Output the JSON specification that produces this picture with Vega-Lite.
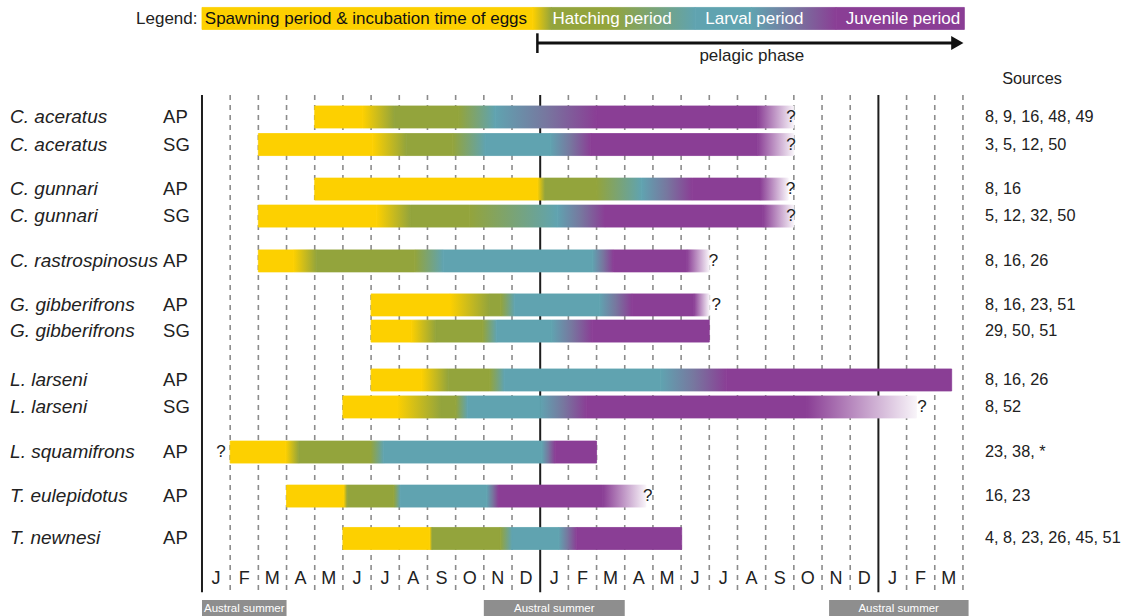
{
  "$schema": "https://vega.github.io/schema/vega-lite/v6.json",
  "width": 1125,
  "height": 616,
  "autosize": {"type": "none"},
  "padding": 0,
  "background": "white",
  "config": {"view": {"stroke": null}, "font": "Liberation Sans", "scale": {"continuousPadding": 0}},
  "datasets": {
    "grid": [
      {"m": 0, "kind": "year"}, {"m": 1, "kind": "month"}, {"m": 2, "kind": "month"}, {"m": 3, "kind": "month"},
      {"m": 4, "kind": "month"}, {"m": 5, "kind": "month"}, {"m": 6, "kind": "month"}, {"m": 7, "kind": "month"},
      {"m": 8, "kind": "month"}, {"m": 9, "kind": "month"}, {"m": 10, "kind": "month"}, {"m": 11, "kind": "month"},
      {"m": 12, "kind": "year"}, {"m": 13, "kind": "month"}, {"m": 14, "kind": "month"}, {"m": 15, "kind": "month"},
      {"m": 16, "kind": "month"}, {"m": 17, "kind": "month"}, {"m": 18, "kind": "month"}, {"m": 19, "kind": "month"},
      {"m": 20, "kind": "month"}, {"m": 21, "kind": "month"}, {"m": 22, "kind": "month"}, {"m": 23, "kind": "month"},
      {"m": 24, "kind": "year"}, {"m": 25, "kind": "month"}, {"m": 26, "kind": "month"}, {"m": 27, "kind": "month"}
    ],
    "months": [
      {"i": 0, "l": "J"}, {"i": 1, "l": "F"}, {"i": 2, "l": "M"}, {"i": 3, "l": "A"}, {"i": 4, "l": "M"}, {"i": 5, "l": "J"},
      {"i": 6, "l": "J"}, {"i": 7, "l": "A"}, {"i": 8, "l": "S"}, {"i": 9, "l": "O"}, {"i": 10, "l": "N"}, {"i": 11, "l": "D"},
      {"i": 12, "l": "J"}, {"i": 13, "l": "F"}, {"i": 14, "l": "M"}, {"i": 15, "l": "A"}, {"i": 16, "l": "M"}, {"i": 17, "l": "J"},
      {"i": 18, "l": "J"}, {"i": 19, "l": "A"}, {"i": 20, "l": "S"}, {"i": 21, "l": "O"}, {"i": 22, "l": "N"}, {"i": 23, "l": "D"},
      {"i": 24, "l": "J"}, {"i": 25, "l": "F"}, {"i": 26, "l": "M"}
    ],
    "seg": [
      {"row": -2.65, "a": 0, "b": 11.74, "s": "YY"}, {"row": -2.65, "a": 11.74, "b": 12.4, "s": "YG"}, {"row": -2.65, "a": 12.4, "b": 14.5, "s": "GG"},
      {"row": -2.65, "a": 14.5, "b": 17.5, "s": "GT"}, {"row": -2.65, "a": 17.5, "b": 19.5, "s": "TT"}, {"row": -2.65, "a": 19.5, "b": 22.5, "s": "TP"},
      {"row": -2.65, "a": 22.5, "b": 27.05, "s": "PP"},

      {"row": 1, "a": 4, "b": 5.7, "s": "YY"}, {"row": 1, "a": 5.7, "b": 6.83, "s": "YG"}, {"row": 1, "a": 6.83, "b": 9.1, "s": "GG"},
      {"row": 1, "a": 9.1, "b": 10.4, "s": "GT"}, {"row": 1, "a": 10.4, "b": 14.0, "s": "TP"}, {"row": 1, "a": 14.0, "b": 19.7, "s": "PP"},
      {"row": 1, "a": 19.7, "b": 21.0, "s": "PW"},

      {"row": 2.02, "a": 2, "b": 6.06, "s": "YY"}, {"row": 2.02, "a": 6.06, "b": 7.25, "s": "YG"}, {"row": 2.02, "a": 7.25, "b": 8.9, "s": "GG"},
      {"row": 2.02, "a": 8.9, "b": 10.06, "s": "GT"}, {"row": 2.02, "a": 10.06, "b": 12.35, "s": "TT"}, {"row": 2.02, "a": 12.35, "b": 13.8, "s": "TP"},
      {"row": 2.02, "a": 13.8, "b": 19.7, "s": "PP"}, {"row": 2.02, "a": 19.7, "b": 21.0, "s": "PW"},

      {"row": 3.67, "a": 4, "b": 11.9, "s": "YY"}, {"row": 3.67, "a": 11.9, "b": 12.17, "s": "YG"}, {"row": 3.67, "a": 12.17, "b": 14.0, "s": "GG"},
      {"row": 3.67, "a": 14.0, "b": 15.6, "s": "GT"}, {"row": 3.67, "a": 15.6, "b": 17.4, "s": "TP"}, {"row": 3.67, "a": 17.4, "b": 19.8, "s": "PP"},
      {"row": 3.67, "a": 19.8, "b": 20.8, "s": "PW"},

      {"row": 4.67, "a": 2, "b": 6.2, "s": "YY"}, {"row": 4.67, "a": 6.2, "b": 7.4, "s": "YG"}, {"row": 4.67, "a": 7.4, "b": 9.5, "s": "GG"},
      {"row": 4.67, "a": 9.5, "b": 12.6, "s": "GT"}, {"row": 4.67, "a": 12.6, "b": 14.3, "s": "TP"}, {"row": 4.67, "a": 14.3, "b": 19.9, "s": "PP"},
      {"row": 4.67, "a": 19.9, "b": 21.0, "s": "PW"},

      {"row": 6.33, "a": 2, "b": 3.25, "s": "YY"}, {"row": 6.33, "a": 3.25, "b": 4.07, "s": "YG"}, {"row": 6.33, "a": 4.07, "b": 7.55, "s": "GG"},
      {"row": 6.33, "a": 7.55, "b": 8.56, "s": "GT"}, {"row": 6.33, "a": 8.56, "b": 13.85, "s": "TT"}, {"row": 6.33, "a": 13.85, "b": 14.6, "s": "TP"},
      {"row": 6.33, "a": 14.6, "b": 17.2, "s": "PP"}, {"row": 6.33, "a": 17.2, "b": 18.0, "s": "PW"},

      {"row": 7.96, "a": 6, "b": 8.8, "s": "YY"}, {"row": 7.96, "a": 8.8, "b": 10.2, "s": "YG"}, {"row": 7.96, "a": 10.2, "b": 10.6, "s": "GG"},
      {"row": 7.96, "a": 10.6, "b": 11.1, "s": "GT"}, {"row": 7.96, "a": 11.1, "b": 14.1, "s": "TT"}, {"row": 7.96, "a": 14.1, "b": 15.26, "s": "TP"},
      {"row": 7.96, "a": 15.26, "b": 17.45, "s": "PP"}, {"row": 7.96, "a": 17.45, "b": 18.0, "s": "PW"},

      {"row": 8.93, "a": 6, "b": 7.42, "s": "YY"}, {"row": 8.93, "a": 7.42, "b": 8.3, "s": "YG"}, {"row": 8.93, "a": 8.3, "b": 9.95, "s": "GG"},
      {"row": 8.93, "a": 9.95, "b": 10.46, "s": "GT"}, {"row": 8.93, "a": 10.46, "b": 12.4, "s": "TT"}, {"row": 8.93, "a": 12.4, "b": 13.85, "s": "TP"},
      {"row": 8.93, "a": 13.85, "b": 18.0, "s": "PP"},

      {"row": 10.74, "a": 6, "b": 7.79, "s": "YY"}, {"row": 10.74, "a": 7.79, "b": 8.74, "s": "YG"}, {"row": 10.74, "a": 8.74, "b": 10.2, "s": "GG"},
      {"row": 10.74, "a": 10.2, "b": 10.73, "s": "GT"}, {"row": 10.74, "a": 10.73, "b": 16.28, "s": "TT"}, {"row": 10.74, "a": 16.28, "b": 18.62, "s": "TP"},
      {"row": 10.74, "a": 18.62, "b": 26.6, "s": "PP"},

      {"row": 11.74, "a": 5, "b": 6.92, "s": "YY"}, {"row": 11.74, "a": 6.92, "b": 8.48, "s": "YG"}, {"row": 11.74, "a": 8.48, "b": 9.0, "s": "GG"},
      {"row": 11.74, "a": 9.0, "b": 9.43, "s": "GT"}, {"row": 11.74, "a": 9.43, "b": 12.0, "s": "TT"}, {"row": 11.74, "a": 12.0, "b": 13.65, "s": "TP"},
      {"row": 11.74, "a": 13.65, "b": 21.45, "s": "PP"}, {"row": 11.74, "a": 21.45, "b": 25.35, "s": "PW"},

      {"row": 13.41, "a": 1, "b": 2.97, "s": "YY"}, {"row": 13.41, "a": 2.97, "b": 3.44, "s": "YG"}, {"row": 13.41, "a": 3.44, "b": 5.98, "s": "GG"},
      {"row": 13.41, "a": 5.98, "b": 6.45, "s": "GT"}, {"row": 13.41, "a": 6.45, "b": 12.06, "s": "TT"}, {"row": 13.41, "a": 12.06, "b": 12.53, "s": "TP"},
      {"row": 13.41, "a": 12.53, "b": 14.0, "s": "PP"},

      {"row": 15.04, "a": 3, "b": 5.03, "s": "YY"}, {"row": 15.04, "a": 5.03, "b": 5.15, "s": "YG"}, {"row": 15.04, "a": 5.15, "b": 6.8, "s": "GG"},
      {"row": 15.04, "a": 6.8, "b": 7.04, "s": "GT"}, {"row": 15.04, "a": 7.04, "b": 10.1, "s": "TT"}, {"row": 15.04, "a": 10.1, "b": 10.52, "s": "TP"},
      {"row": 15.04, "a": 10.52, "b": 14.22, "s": "PP"}, {"row": 15.04, "a": 14.22, "b": 15.75, "s": "PW"},

      {"row": 16.61, "a": 5, "b": 8.08, "s": "YY"}, {"row": 16.61, "a": 8.08, "b": 8.16, "s": "YG"}, {"row": 16.61, "a": 8.16, "b": 10.58, "s": "GG"},
      {"row": 16.61, "a": 10.58, "b": 11.0, "s": "GT"}, {"row": 16.61, "a": 11.0, "b": 12.65, "s": "TT"}, {"row": 16.61, "a": 12.65, "b": 13.3, "s": "TP"},
      {"row": 16.61, "a": 13.3, "b": 17.02, "s": "PP"}
    ],
    "unk": [
      {"row": 1, "m": 20.9}, {"row": 2.02, "m": 20.9}, {"row": 3.67, "m": 20.88}, {"row": 4.67, "m": 20.9},
      {"row": 6.33, "m": 18.15}, {"row": 7.96, "m": 18.25}, {"row": 11.74, "m": 25.55}, {"row": 13.41, "m": 0.67},
      {"row": 15.04, "m": 15.82}
    ],
    "species": [
      {"sp": "C. aceratus", "reg": "AP", "src": "8, 9, 16, 48, 49", "row": 1},
      {"sp": "C. aceratus", "reg": "SG", "src": "3, 5, 12, 50", "row": 2.02},
      {"sp": "C. gunnari", "reg": "AP", "src": "8, 16", "row": 3.67},
      {"sp": "C. gunnari", "reg": "SG", "src": "5, 12, 32, 50", "row": 4.67},
      {"sp": "C. rastrospinosus", "reg": "AP", "src": "8, 16, 26", "row": 6.33},
      {"sp": "G. gibberifrons", "reg": "AP", "src": "8, 16, 23, 51", "row": 7.96},
      {"sp": "G. gibberifrons", "reg": "SG", "src": "29, 50, 51", "row": 8.93},
      {"sp": "L. larseni", "reg": "AP", "src": "8, 16, 26", "row": 10.74},
      {"sp": "L. larseni", "reg": "SG", "src": "8, 52", "row": 11.74},
      {"sp": "L. squamifrons", "reg": "AP", "src": "23, 38, *", "row": 13.41},
      {"sp": "T. eulepidotus", "reg": "AP", "src": "16, 23", "row": 15.04},
      {"sp": "T. newnesi", "reg": "AP", "src": "4, 8, 23, 26, 45, 51", "row": 16.61}
    ],
    "summer": [
      {"a": 0, "b": 3, "c": 1.5, "t": "Austral summer"},
      {"a": 10, "b": 15, "c": 12.5, "t": "Austral summer"},
      {"a": 22.25, "b": 27.2, "c": 24.72, "t": "Austral summer"}
    ]
  },
  "layer": [
    {
      "data": {"name": "grid"},
      "transform": [{"filter": "datum.kind == 'month'"}],
      "mark": {"type": "rule", "color": "#8c8c8c", "strokeWidth": 1.6, "strokeDash": [5, 5]},
      "encoding": {
        "x": {"field": "m", "type": "quantitative", "scale": {"domain": [-7.167, 32.75], "nice": false, "zero": false, "padding": 0}, "axis": null},
        "y": {"datum": 0.185, "type": "quantitative", "scale": {"domain": [-3.3333, 19.4815], "reverse": true, "nice": false, "zero": false, "padding": 0}, "axis": null},
        "y2": {"datum": 18.6}
      }
    },
    {
      "data": {"name": "grid"},
      "transform": [{"filter": "datum.kind == 'year'"}],
      "mark": {"type": "rule", "color": "#1e1e1e", "strokeWidth": 2},
      "encoding": {
        "x": {"field": "m", "type": "quantitative", "scale": {"domain": [-7.167, 32.75], "nice": false, "zero": false, "padding": 0}, "axis": null},
        "y": {"datum": 0.185, "type": "quantitative", "scale": {"domain": [-3.3333, 19.4815], "reverse": true, "nice": false, "zero": false, "padding": 0}, "axis": null},
        "y2": {"datum": 18.6}
      }
    },
    {
      "data": {"name": "seg"},
      "transform": [{"filter": "datum.s == 'YY' || datum.s == 'GG' || datum.s == 'TT' || datum.s == 'PP'"}],
      "mark": {"type": "bar", "orient": "horizontal", "height": 22, "strokeWidth": 0.8},
      "encoding": {
        "x": {"field": "a", "type": "quantitative", "scale": {"domain": [-7.167, 32.75], "nice": false, "zero": false, "padding": 0}, "axis": null},
        "x2": {"field": "b"},
        "y": {"field": "row", "type": "quantitative", "scale": {"domain": [-3.3333, 19.4815], "reverse": true, "nice": false, "zero": false, "padding": 0}, "axis": null},
        "fill": {"field": "s", "type": "nominal", "scale": {"domain": ["YY", "GG", "TT", "PP"], "range": ["#FDD000", "#93A43C", "#60A3B0", "#8A3E95"]}, "legend": null},
        "stroke": {"field": "s", "type": "nominal", "scale": {"domain": ["YY", "GG", "TT", "PP"], "range": ["#FDD000", "#93A43C", "#60A3B0", "#8A3E95"]}, "legend": null}
      }
    },
    {
      "data": {"name": "seg"},
      "transform": [{"filter": "datum.s == 'YG'"}],
      "mark": {"type": "bar", "orient": "horizontal", "height": 22, "strokeWidth": 0.8,
        "fill": {"gradient": "linear", "stops": [{"offset": 0, "color": "#FDD000"}, {"offset": 1, "color": "#93A43C"}]},
        "stroke": {"gradient": "linear", "stops": [{"offset": 0, "color": "#FDD000"}, {"offset": 1, "color": "#93A43C"}]}},
      "encoding": {
        "x": {"field": "a", "type": "quantitative", "scale": {"domain": [-7.167, 32.75], "nice": false, "zero": false, "padding": 0}, "axis": null},
        "x2": {"field": "b"},
        "y": {"field": "row", "type": "quantitative", "scale": {"domain": [-3.3333, 19.4815], "reverse": true, "nice": false, "zero": false, "padding": 0}, "axis": null}
      }
    },
    {
      "data": {"name": "seg"},
      "transform": [{"filter": "datum.s == 'GT'"}],
      "mark": {"type": "bar", "orient": "horizontal", "height": 22, "strokeWidth": 0.8,
        "fill": {"gradient": "linear", "stops": [{"offset": 0, "color": "#93A43C"}, {"offset": 1, "color": "#60A3B0"}]},
        "stroke": {"gradient": "linear", "stops": [{"offset": 0, "color": "#93A43C"}, {"offset": 1, "color": "#60A3B0"}]}},
      "encoding": {
        "x": {"field": "a", "type": "quantitative", "scale": {"domain": [-7.167, 32.75], "nice": false, "zero": false, "padding": 0}, "axis": null},
        "x2": {"field": "b"},
        "y": {"field": "row", "type": "quantitative", "scale": {"domain": [-3.3333, 19.4815], "reverse": true, "nice": false, "zero": false, "padding": 0}, "axis": null}
      }
    },
    {
      "data": {"name": "seg"},
      "transform": [{"filter": "datum.s == 'TP'"}],
      "mark": {"type": "bar", "orient": "horizontal", "height": 22, "strokeWidth": 0.8,
        "fill": {"gradient": "linear", "stops": [{"offset": 0, "color": "#60A3B0"}, {"offset": 0.5, "color": "#77779F"}, {"offset": 1, "color": "#8A3E95"}]},
        "stroke": {"gradient": "linear", "stops": [{"offset": 0, "color": "#60A3B0"}, {"offset": 0.5, "color": "#77779F"}, {"offset": 1, "color": "#8A3E95"}]}},
      "encoding": {
        "x": {"field": "a", "type": "quantitative", "scale": {"domain": [-7.167, 32.75], "nice": false, "zero": false, "padding": 0}, "axis": null},
        "x2": {"field": "b"},
        "y": {"field": "row", "type": "quantitative", "scale": {"domain": [-3.3333, 19.4815], "reverse": true, "nice": false, "zero": false, "padding": 0}, "axis": null}
      }
    },
    {
      "data": {"name": "seg"},
      "transform": [{"filter": "datum.s == 'PW'"}],
      "mark": {"type": "bar", "orient": "horizontal", "height": 22, "strokeWidth": 0.8,
        "fill": {"gradient": "linear", "stops": [{"offset": 0, "color": "#8A3E95"}, {"offset": 1, "color": "#F8F4F9"}]},
        "stroke": {"gradient": "linear", "stops": [{"offset": 0, "color": "#8A3E95"}, {"offset": 1, "color": "#F8F4F9"}]}},
      "encoding": {
        "x": {"field": "a", "type": "quantitative", "scale": {"domain": [-7.167, 32.75], "nice": false, "zero": false, "padding": 0}, "axis": null},
        "x2": {"field": "b"},
        "y": {"field": "row", "type": "quantitative", "scale": {"domain": [-3.3333, 19.4815], "reverse": true, "nice": false, "zero": false, "padding": 0}, "axis": null}
      }
    },
    {
      "data": {"name": "unk"},
      "mark": {"type": "text", "fontSize": 17, "color": "#222222", "baseline": "middle", "align": "center"},
      "encoding": {
        "x": {"field": "m", "type": "quantitative", "scale": {"domain": [-7.167, 32.75], "nice": false, "zero": false, "padding": 0}, "axis": null},
        "y": {"field": "row", "type": "quantitative", "scale": {"domain": [-3.3333, 19.4815], "reverse": true, "nice": false, "zero": false, "padding": 0}, "axis": null},
        "text": {"value": "?"}
      }
    },
    {
      "data": {"name": "species"},
      "mark": {"type": "text", "fontSize": 19, "fontStyle": "italic", "color": "#222222", "baseline": "middle", "align": "left"},
      "encoding": {
        "x": {"datum": -6.81, "type": "quantitative", "scale": {"domain": [-7.167, 32.75], "nice": false, "zero": false, "padding": 0}, "axis": null},
        "y": {"field": "row", "type": "quantitative", "scale": {"domain": [-3.3333, 19.4815], "reverse": true, "nice": false, "zero": false, "padding": 0}, "axis": null},
        "text": {"field": "sp"}
      }
    },
    {
      "data": {"name": "species"},
      "mark": {"type": "text", "fontSize": 18.5, "color": "#222222", "baseline": "middle", "align": "left"},
      "encoding": {
        "x": {"datum": -1.38, "type": "quantitative", "scale": {"domain": [-7.167, 32.75], "nice": false, "zero": false, "padding": 0}, "axis": null},
        "y": {"field": "row", "type": "quantitative", "scale": {"domain": [-3.3333, 19.4815], "reverse": true, "nice": false, "zero": false, "padding": 0}, "axis": null},
        "text": {"field": "reg"}
      }
    },
    {
      "data": {"name": "species"},
      "mark": {"type": "text", "fontSize": 16.3, "color": "#222222", "baseline": "middle", "align": "left"},
      "encoding": {
        "x": {"datum": 27.78, "type": "quantitative", "scale": {"domain": [-7.167, 32.75], "nice": false, "zero": false, "padding": 0}, "axis": null},
        "y": {"field": "row", "type": "quantitative", "scale": {"domain": [-3.3333, 19.4815], "reverse": true, "nice": false, "zero": false, "padding": 0}, "axis": null},
        "text": {"field": "src"}
      }
    },
    {
      "data": {"values": [{"t": "Sources"}]},
      "mark": {"type": "text", "fontSize": 16.3, "color": "#222222", "baseline": "middle", "align": "center"},
      "encoding": {
        "x": {"datum": 29.45, "type": "quantitative", "scale": {"domain": [-7.167, 32.75], "nice": false, "zero": false, "padding": 0}, "axis": null},
        "y": {"datum": -0.4, "type": "quantitative", "scale": {"domain": [-3.3333, 19.4815], "reverse": true, "nice": false, "zero": false, "padding": 0}, "axis": null},
        "text": {"field": "t"}
      }
    },
    {
      "data": {"values": [{"t": "Legend:"}]},
      "mark": {"type": "text", "fontSize": 17, "color": "#222222", "baseline": "middle", "align": "right"},
      "encoding": {
        "x": {"datum": -0.16, "type": "quantitative", "scale": {"domain": [-7.167, 32.75], "nice": false, "zero": false, "padding": 0}, "axis": null},
        "y": {"datum": -2.63, "type": "quantitative", "scale": {"domain": [-3.3333, 19.4815], "reverse": true, "nice": false, "zero": false, "padding": 0}, "axis": null},
        "text": {"field": "t"}
      }
    },
    {
      "data": {"values": [{"t": "Spawning period & incubation time of eggs", "m": 0.1}]},
      "mark": {"type": "text", "fontSize": 17, "color": "#111111", "baseline": "middle", "align": "left"},
      "encoding": {
        "x": {"field": "m", "type": "quantitative", "scale": {"domain": [-7.167, 32.75], "nice": false, "zero": false, "padding": 0}, "axis": null},
        "y": {"datum": -2.63, "type": "quantitative", "scale": {"domain": [-3.3333, 19.4815], "reverse": true, "nice": false, "zero": false, "padding": 0}, "axis": null},
        "text": {"field": "t"}
      }
    },
    {
      "data": {"values": [{"t": "Hatching period", "m": 14.55}, {"t": "Larval period", "m": 19.6}, {"t": "Juvenile period", "m": 24.87}]},
      "mark": {"type": "text", "fontSize": 17, "color": "white", "baseline": "middle", "align": "center"},
      "encoding": {
        "x": {"field": "m", "type": "quantitative", "scale": {"domain": [-7.167, 32.75], "nice": false, "zero": false, "padding": 0}, "axis": null},
        "y": {"datum": -2.63, "type": "quantitative", "scale": {"domain": [-3.3333, 19.4815], "reverse": true, "nice": false, "zero": false, "padding": 0}, "axis": null},
        "text": {"field": "t"}
      }
    },
    {
      "data": {"values": [{"a": 11.9, "b": 26.75}]},
      "mark": {"type": "rule", "color": "#111111", "strokeWidth": 3},
      "encoding": {
        "x": {"field": "a", "type": "quantitative", "scale": {"domain": [-7.167, 32.75], "nice": false, "zero": false, "padding": 0}, "axis": null},
        "x2": {"field": "b"},
        "y": {"datum": -1.74, "type": "quantitative", "scale": {"domain": [-3.3333, 19.4815], "reverse": true, "nice": false, "zero": false, "padding": 0}, "axis": null}
      }
    },
    {
      "data": {"values": [{"a": 11.9}]},
      "mark": {"type": "rule", "color": "#111111", "strokeWidth": 2.5},
      "encoding": {
        "x": {"field": "a", "type": "quantitative", "scale": {"domain": [-7.167, 32.75], "nice": false, "zero": false, "padding": 0}, "axis": null},
        "y": {"datum": -2.1, "type": "quantitative", "scale": {"domain": [-3.3333, 19.4815], "reverse": true, "nice": false, "zero": false, "padding": 0}, "axis": null},
        "y2": {"datum": -1.37}
      }
    },
    {
      "data": {"values": [{"a": 26.8}]},
      "mark": {"type": "point", "shape": "triangle-right", "filled": true, "color": "#111111", "size": 200, "opacity": 1},
      "encoding": {
        "x": {"field": "a", "type": "quantitative", "scale": {"domain": [-7.167, 32.75], "nice": false, "zero": false, "padding": 0}, "axis": null},
        "y": {"datum": -1.74, "type": "quantitative", "scale": {"domain": [-3.3333, 19.4815], "reverse": true, "nice": false, "zero": false, "padding": 0}, "axis": null}
      }
    },
    {
      "data": {"values": [{"t": "pelagic phase"}]},
      "mark": {"type": "text", "fontSize": 17, "color": "#222222", "baseline": "middle", "align": "center"},
      "encoding": {
        "x": {"datum": 19.51, "type": "quantitative", "scale": {"domain": [-7.167, 32.75], "nice": false, "zero": false, "padding": 0}, "axis": null},
        "y": {"datum": -1.26, "type": "quantitative", "scale": {"domain": [-3.3333, 19.4815], "reverse": true, "nice": false, "zero": false, "padding": 0}, "axis": null},
        "text": {"field": "t"}
      }
    },
    {
      "data": {"name": "months"},
      "mark": {"type": "text", "fontSize": 18, "font": "Liberation Sans Narrow, Liberation Sans, sans-serif", "color": "#222222", "baseline": "middle", "align": "center", "dx": 14},
      "encoding": {
        "x": {"field": "i", "type": "quantitative", "scale": {"domain": [-7.167, 32.75], "nice": false, "zero": false, "padding": 0}, "axis": null},
        "y": {"datum": 18.12, "type": "quantitative", "scale": {"domain": [-3.3333, 19.4815], "reverse": true, "nice": false, "zero": false, "padding": 0}, "axis": null},
        "text": {"field": "l"}
      }
    },
    {
      "data": {"name": "summer"},
      "mark": {"type": "rect", "color": "#8e8e8e"},
      "encoding": {
        "x": {"field": "a", "type": "quantitative", "scale": {"domain": [-7.167, 32.75], "nice": false, "zero": false, "padding": 0}, "axis": null},
        "x2": {"field": "b"},
        "y": {"datum": 18.89, "type": "quantitative", "scale": {"domain": [-3.3333, 19.4815], "reverse": true, "nice": false, "zero": false, "padding": 0}, "axis": null},
        "y2": {"datum": 19.4815}
      }
    },
    {
      "data": {"name": "summer"},
      "mark": {"type": "text", "fontSize": 11.5, "font": "Liberation Sans Narrow, Liberation Sans, sans-serif", "color": "white", "baseline": "middle", "align": "center"},
      "encoding": {
        "x": {"field": "c", "type": "quantitative", "scale": {"domain": [-7.167, 32.75], "nice": false, "zero": false, "padding": 0}, "axis": null},
        "y": {"datum": 19.22, "type": "quantitative", "scale": {"domain": [-3.3333, 19.4815], "reverse": true, "nice": false, "zero": false, "padding": 0}, "axis": null},
        "text": {"field": "t"}
      }
    }
  ]
}
